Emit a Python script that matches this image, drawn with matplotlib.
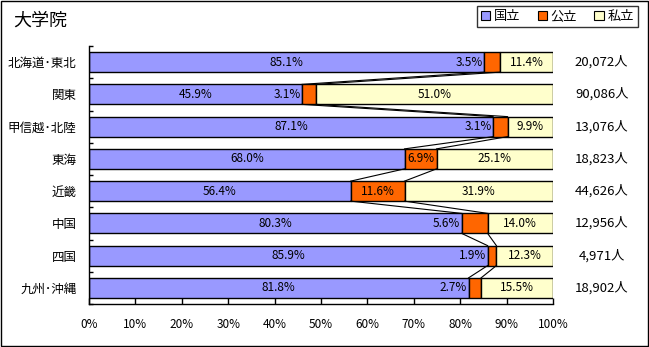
import matplotlib
matplotlib.use('Agg')
import matplotlib.pyplot as plt
from matplotlib.patches import Patch, Rectangle
import numpy as np

plt.rcParams['font.family'] = ['Noto Sans CJK JP', 'DejaVu Sans']

# ---- data ----
regions = ['北海道･東北', '関東', '甲信越･北陸', '東海', '近畿', '中国', '四国', '九州･沖縄']
national = [85.1, 45.9, 87.1, 68.0, 56.4, 80.3, 85.9, 81.8]
public = [3.5, 3.1, 3.1, 6.9, 11.6, 5.6, 1.9, 2.7]
private = [11.4, 51.0, 9.9, 25.1, 31.9, 14.0, 12.3, 15.5]
totals = ['20,072人', '90,086人', '13,076人', '18,823人', '44,626人', '12,956人', '4,971人', '18,902人']
series_names = ['国立', '公立', '私立']
colors = ['#9999FF', '#FF6600', '#FFFFCC']

fig = plt.figure(figsize=(6.49, 3.47), dpi=100)
ax = fig.add_axes([89 / 649, 1 - 304 / 347, 464 / 649, 258 / 347])

y = np.arange(len(regions))
h = 0.62
nat = np.array(national)
pub = np.array(public)
pri = np.array(private)

ax.barh(y, nat, height=h, color=colors[0], edgecolor='k', lw=1)
ax.barh(y, pub, left=nat, height=h, color=colors[1], edgecolor='k', lw=1)
ax.barh(y, pri, left=nat + pub, height=h, color=colors[2], edgecolor='k', lw=1)

# series lines between bars
for cum in (nat, nat + pub):
    for i in range(len(y) - 1):
        ax.plot([cum[i], cum[i + 1]], [y[i] + h / 2, y[i + 1] - h / 2],
                color='k', lw=0.8, zorder=1)

# labels
fs = 8.5
for i in range(len(y)):
    ax.text(nat[i] / 2, y[i], '%.1f%%' % nat[i], ha='center', va='center', fontsize=fs)
    if pub[i] < 6:
        ax.text(nat[i] - 0.3, y[i], '%.1f%%' % pub[i], ha='right', va='center', fontsize=fs)
    else:
        ax.text(nat[i] + pub[i] / 2, y[i], '%.1f%%' % pub[i], ha='center', va='center', fontsize=fs)
    ax.text(nat[i] + pub[i] + pri[i] / 2, y[i], '%.1f%%' % pri[i], ha='center', va='center', fontsize=fs)
    ax.text(110.5, y[i], totals[i], ha='center', va='center', fontsize=9.5, clip_on=False)

ax.set_xlim(0, 100)
ax.set_ylim(len(y) - 0.5, -0.5)
ax.set_xticks(np.arange(0, 101, 10))
ax.set_xticklabels(['%d%%' % v for v in range(0, 101, 10)], fontsize=8.5)
ax.set_yticks(y)
ax.set_yticklabels(regions, fontsize=9)
ax.set_yticks(np.arange(-0.5, len(y), 1), minor=True)
ax.tick_params(axis='y', which='major', length=0, pad=9)
ax.tick_params(axis='y', which='minor', direction='in', length=3, width=1)
ax.tick_params(axis='x', direction='in', length=4, width=1, pad=10)
for s in ('top', 'right'):
    ax.spines[s].set_visible(False)
for s in ('left', 'bottom'):
    ax.spines[s].set_linewidth(1)

fig.text(13 / 649, 1 - 21 / 347, '大学院', fontsize=13, ha='left', va='center')

handles = [Patch(facecolor=c, edgecolor='k', lw=0.8) for c in colors]
leg = fig.legend(handles, series_names, loc='upper right', bbox_to_anchor=(638 / 649, 1 - 6 / 347),
                 ncol=3, fontsize=9.5, frameon=True, fancybox=False, edgecolor='k',
                 handlelength=0.7, handleheight=0.7, handletextpad=0.3, columnspacing=1.3,
                 borderpad=0.3, borderaxespad=0)
leg.get_frame().set_linewidth(1)

fig.patches.append(Rectangle((0.001, 0.002), 0.997, 0.995, transform=fig.transFigure,
                             fill=False, edgecolor='k', lw=1))

fig.savefig('out.png', dpi=100)
